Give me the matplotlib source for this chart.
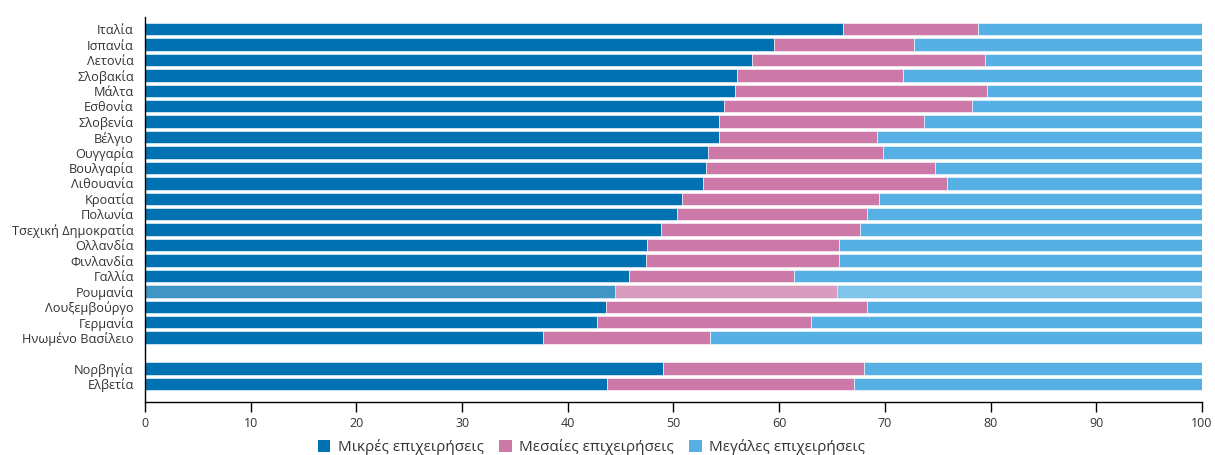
import matplotlib.pyplot as plt
from matplotlib.patches import Patch

plt.rcParams['font.family'] = ['Open Sans', 'DejaVu Sans']

countries = ["Ιταλία", "Ισπανία", "Λετονία", "Σλοβακία", "Μάλτα", "Εσθονία", "Σλοβενία",
             "Βέλγιο", "Ουγγαρία", "Βουλγαρία", "Λιθουανία", "Κροατία", "Πολωνία",
             "Τσεχική Δημοκρατία", "Ολλανδία", "Φινλανδία", "Γαλλία", "Ρουμανία",
             "Λουξεμβούργο", "Γερμανία", "Ηνωμένο Βασίλειο", "Νορβηγία", "Ελβετία"]
positions = list(range(21)) + [22, 23]

small = [66.0, 59.5, 57.4, 56.0, 55.8, 54.8, 54.3, 54.3, 53.3, 53.1, 52.8, 50.8, 50.3,
         48.8, 47.5, 47.4, 45.8, 44.5, 43.6, 42.8, 37.7, 49.0, 43.7]
medium = [12.8, 13.3, 22.1, 15.7, 23.9, 23.4, 19.4, 15.0, 16.5, 21.6, 23.1, 18.6, 18.0,
          18.8, 18.2, 18.3, 15.6, 21.0, 24.7, 20.2, 15.8, 19.0, 23.4]
large = [100 - s - m for s, m in zip(small, medium)]

labels = ["Μικρές επιχειρήσεις", "Μεσαίες επιχειρήσεις", "Μεγάλες επιχειρήσεις"]
colors = ["#0072B2", "#CC79A7", "#56B0E4"]
highlight = "Ρουμανία"

fig = plt.figure(figsize=(12.15, 4.55), dpi=100)
ax = fig.add_axes([0.1193, 0.1165, 0.87, 0.846])

left = [0] * len(small)
for vals, col in zip([small, medium, large], colors):
    for i, (p, v, l) in enumerate(zip(positions, vals, left)):
        a = 0.75 if countries[i] == highlight else 1.0
        ax.barh(p, v, left=l, height=0.8, color=col, alpha=a, edgecolor='white', linewidth=0.4)
    left = [l + v for l, v in zip(left, vals)]

ax.set_yticks(positions)
ax.set_yticklabels(countries, fontsize=9.2, color='#333333')
ax.tick_params(axis='y', length=0, pad=8)
ax.set_ylim(24.17, -0.78)
ax.set_xlim(0, 100)
ax.set_xticks(range(0, 101, 10))
ax.tick_params(axis='x', length=7, width=1, labelsize=9, colors='black', labelcolor='#333333')
for s in ['top', 'right']:
    ax.spines[s].set_visible(False)
for s in ['left', 'bottom']:
    ax.spines[s].set_color('black')
    ax.spines[s].set_linewidth(1)

handles = [Patch(facecolor=c, edgecolor='none') for c in colors]
fig.legend(handles, labels, loc='center', bbox_to_anchor=(0.487, 0.0176), ncol=3,
           frameon=False, fontsize=11, handlelength=0.8, handleheight=0.8,
           handletextpad=0.5, columnspacing=1.0, labelcolor='#333333')

fig.savefig("out.png", dpi=100)
